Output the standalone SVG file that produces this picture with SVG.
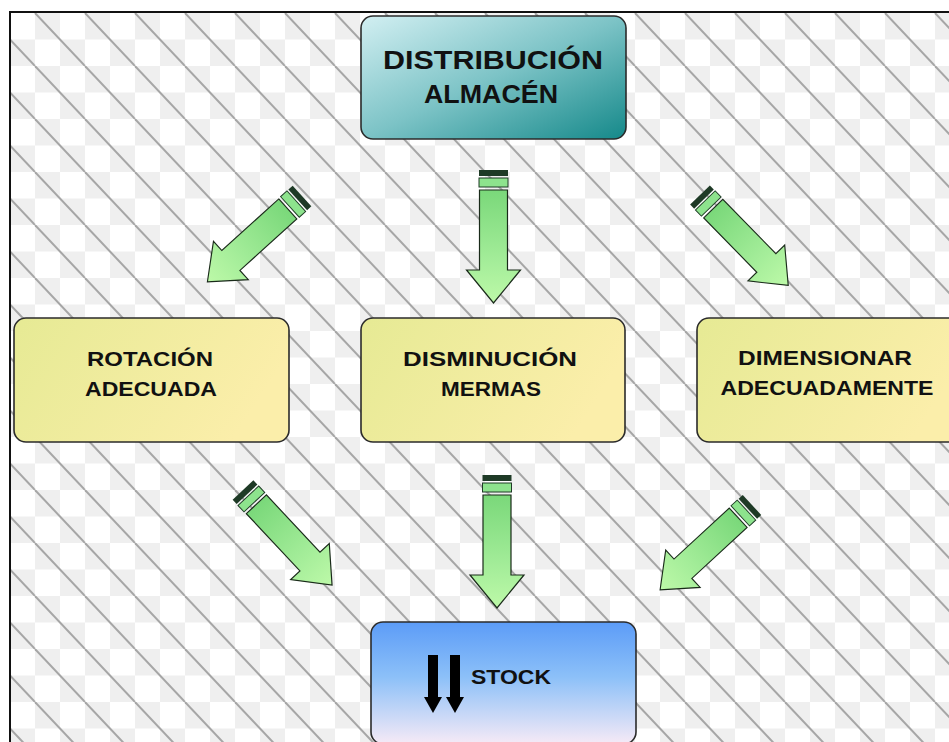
<svg xmlns="http://www.w3.org/2000/svg" width="949" height="742" viewBox="0 0 949 742">
<style>
.box{stroke:#2b2b2b;stroke-width:1.6}
.t{font-family:"Liberation Sans",Arial,sans-serif;font-weight:bold;fill:#111;text-anchor:middle}
.big{font-size:25px}
.mid{font-size:21px}
.band1{fill:#1e3a26}
.band2{fill:#8de38d;stroke:#1e3a26;stroke-width:1}
.ab{fill:url(#ag);stroke:#1a2a1a;stroke-width:1.2;stroke-linejoin:miter}
</style>
<defs>
<pattern id="bg" patternUnits="userSpaceOnUse" x="35" y="13" width="50" height="53">
<rect width="50" height="53" fill="#ffffff"/>
<rect x="0" y="0" width="25" height="26.5" fill="#efefef"/>
<rect x="25" y="26.5" width="25" height="26.5" fill="#efefef"/>
<g stroke="#a6a6a6" stroke-width="2">
<line x1="0" y1="0" x2="50" y2="53"/>
<line x1="-50" y1="0" x2="0" y2="53"/>
<line x1="50" y1="0" x2="100" y2="53"/>
</g>
</pattern>
<linearGradient id="teal" x1="0" y1="0" x2="1" y2="1">
<stop offset="0" stop-color="#d2eff2"/>
<stop offset="0.5" stop-color="#7cc3c6"/>
<stop offset="1" stop-color="#15898a"/>
</linearGradient>
<linearGradient id="yel" x1="0" y1="0" x2="1" y2="0.3">
<stop offset="0" stop-color="#e6ea94"/>
<stop offset="1" stop-color="#fbeeaa"/>
</linearGradient>
<linearGradient id="blu" x1="0" y1="0" x2="0" y2="1">
<stop offset="0" stop-color="#5c9cf7"/>
<stop offset="0.45" stop-color="#8cc0f8"/>
<stop offset="1" stop-color="#f6eaf6"/>
</linearGradient>
<linearGradient id="ag" x1="0" y1="0" x2="0" y2="1">
<stop offset="0" stop-color="#7ad87a"/>
<stop offset="0.6" stop-color="#a2ec98"/>
<stop offset="1" stop-color="#bdf9a8"/>
</linearGradient>
<g id="arr">
<rect class="band1" x="-14.5" y="0" width="29" height="6"/>
<rect class="band2" x="-14.5" y="8" width="29" height="9"/>
<path class="ab" d="M-14,20 L14,20 L14,100 L27,100 L0,133 L-27,100 L-14,100 Z"/>
</g>
</defs>

<rect x="0" y="0" width="949" height="742" fill="#ffffff"/>
<rect x="10" y="12" width="939" height="730" fill="url(#bg)"/>
<path d="M10,742 L10,12 L949,12" fill="none" stroke="#111" stroke-width="2"/>

<g id="connectors">
<use href="#arr" transform="translate(493.5,170)"/>
<use href="#arr" transform="translate(497,475)"/>
<use href="#arr" transform="translate(302,196) rotate(47.8) scale(0.96)"/>
<use href="#arr" transform="translate(700,195) rotate(-44.3) scale(0.95)"/>
<use href="#arr" transform="translate(243,490) rotate(-43.1) scale(0.98)"/>
<use href="#arr" transform="translate(752,505) rotate(47.3) scale(0.94)"/>
</g>

<g id="distribucion">
<rect class="box" x="361" y="16" width="265" height="123" rx="12" fill="url(#teal)"/>
<text class="t big" x="493" y="69" textLength="220" lengthAdjust="spacingAndGlyphs">DISTRIBUCIÓN</text>
<text class="t big" x="491" y="103" textLength="134" lengthAdjust="spacingAndGlyphs">ALMACÉN</text>
</g>

<g id="rotacion">
<rect class="box" x="14" y="318" width="275" height="124" rx="12" fill="url(#yel)"/>
<text class="t mid" x="150" y="366" textLength="126" lengthAdjust="spacingAndGlyphs">ROTACIÓN</text>
<text class="t mid" x="151" y="396" textLength="132" lengthAdjust="spacingAndGlyphs">ADECUADA</text>
</g>

<g id="disminucion">
<rect class="box" x="361" y="318" width="264" height="124" rx="12" fill="url(#yel)"/>
<text class="t mid" x="490" y="366" textLength="174" lengthAdjust="spacingAndGlyphs">DISMINUCIÓN</text>
<text class="t mid" x="491" y="396" textLength="100" lengthAdjust="spacingAndGlyphs">MERMAS</text>
</g>

<g id="dimensionar">
<rect class="box" x="697" y="318" width="270" height="124" rx="12" fill="url(#yel)"/>
<text class="t mid" x="825" y="365" textLength="174" lengthAdjust="spacingAndGlyphs">DIMENSIONAR</text>
<text class="t mid" x="827" y="395" textLength="213" lengthAdjust="spacingAndGlyphs">ADECUADAMENTE</text>
</g>

<g id="stock">
<rect class="box" x="371" y="622" width="265" height="122" rx="12" fill="url(#blu)"/>
<g fill="#000">
<path d="M428,655 L438,655 L438,697 L442,697 L433,713 L424,697 L428,697 Z"/>
<path d="M450,655 L460,655 L460,697 L464,697 L455,713 L446,697 L450,697 Z"/>
</g>
<text class="t" x="511" y="684" font-size="21" textLength="80" lengthAdjust="spacingAndGlyphs">STOCK</text>
</g>
</svg>
